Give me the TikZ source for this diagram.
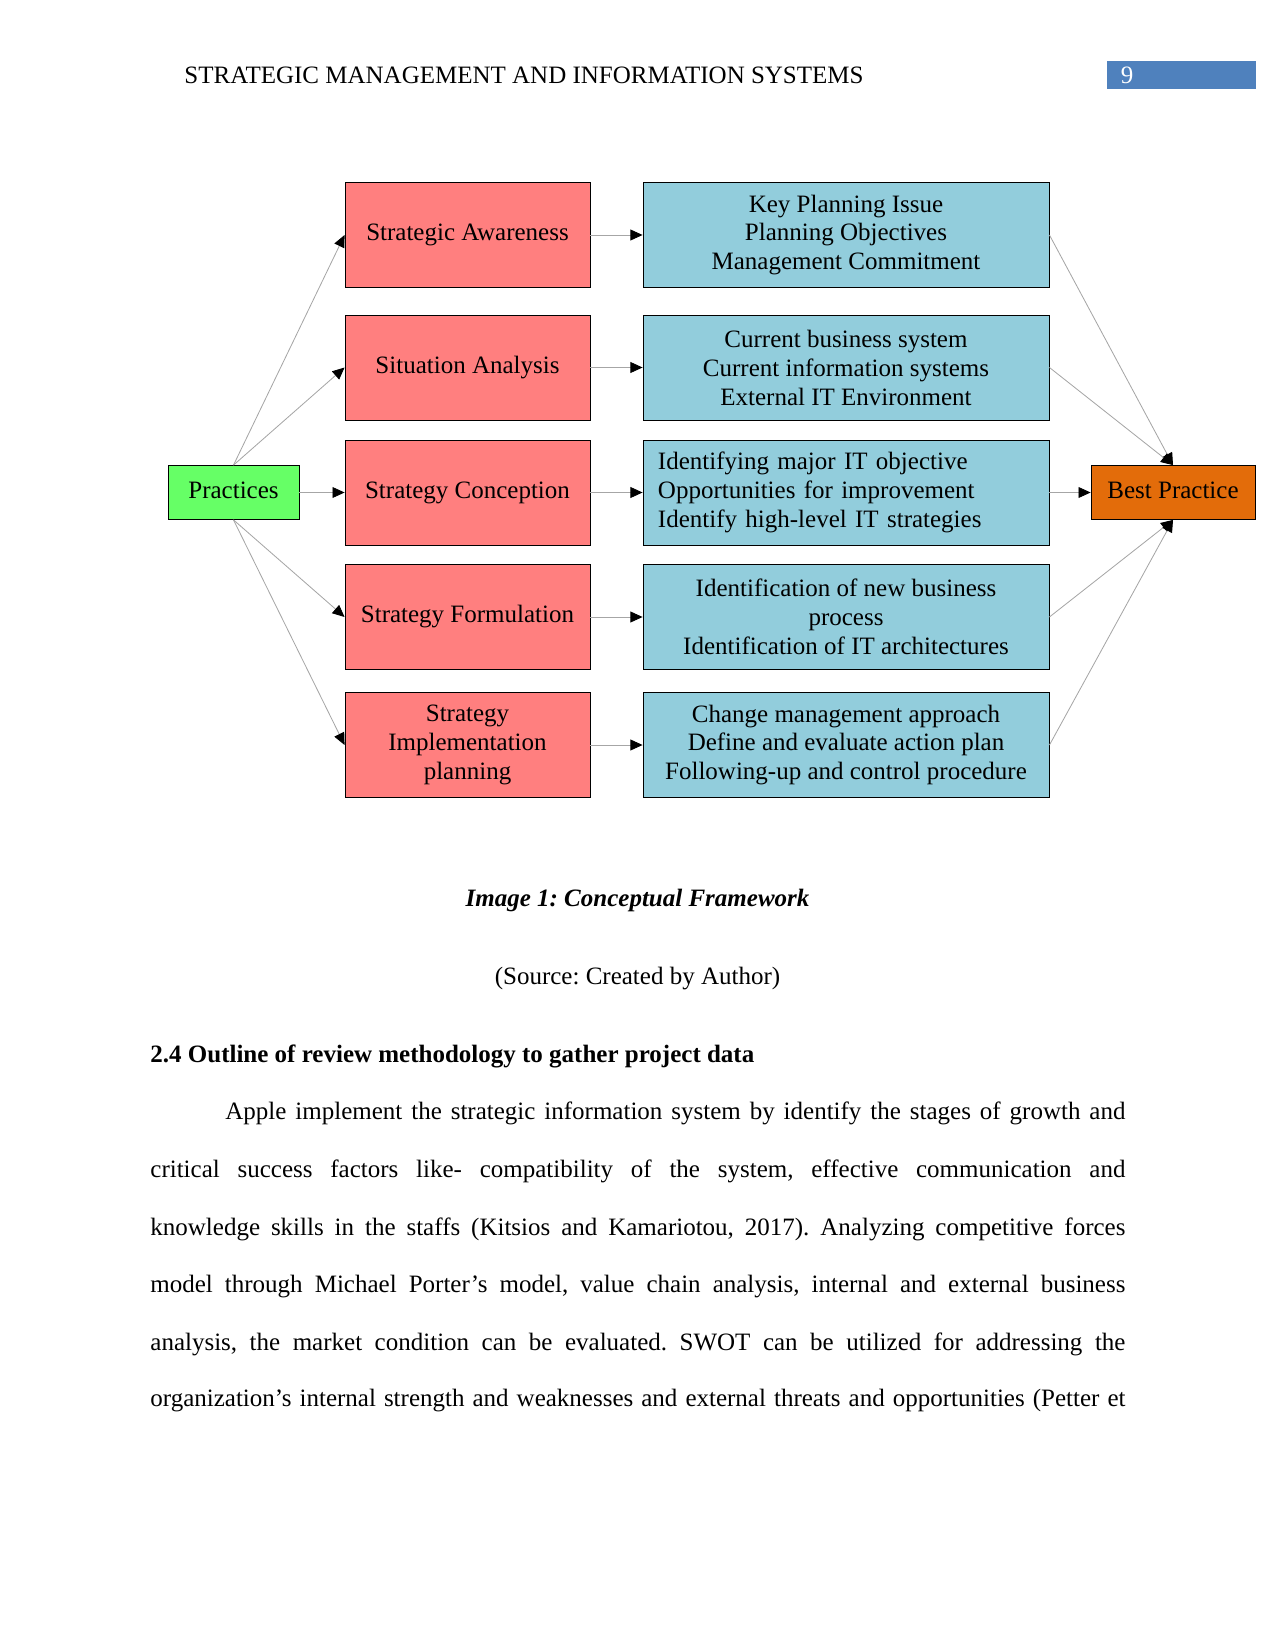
\documentclass[tikz,border=0pt]{standalone}
\usepackage{fontspec}
\setmainfont{Liberation Serif}
\frenchspacing
\usetikzlibrary{arrows.meta}
\definecolor{pinkbox}{HTML}{FF7F7F}
\definecolor{bluebox}{HTML}{92CDDC}
\definecolor{greenbox}{HTML}{66FF66}
\definecolor{orangebox}{HTML}{E36C0A}
\definecolor{headblue}{HTML}{4F81BD}
\begin{document}
\begin{tikzpicture}[x=0.48pt,y=-0.48pt,font=\fontsize{12}{13.9}\selectfont,
  pinkstyle/.style={draw=black,fill=pinkbox,minimum width=117.6pt,minimum height=50.4pt,align=center,inner sep=2pt,line width=0.4pt},
  bluestyle/.style={draw=black,fill=bluebox,minimum width=194.9pt,minimum height=50.4pt,align=center,inner sep=2pt,line width=0.4pt},
  blueleft/.style={draw=black,fill=bluebox,text width=180.5pt,minimum height=50.4pt,align=left,inner xsep=7.2pt,inner ysep=2pt,line width=0.4pt},
  smallbox/.style={draw=black,minimum height=25.9pt,inner sep=2pt,line width=0.4pt},
  conn/.style={draw=gray!70,line width=0.4pt,-{Triangle[length=5.8pt,width=5.2pt,color=black]}},
  plain/.style={inner sep=0pt,anchor=base west}]
\useasboundingbox (0,0) rectangle (1275,1650);
% header
\node[plain] (head) at (184,84) {STRATEGIC MANAGEMENT AND INFORMATION SYSTEMS};
\node[fill=headblue,minimum width=71.5pt,minimum height=13pt,inner sep=0pt] (pgbox) at (1181,75) {};
\node[plain,text=white,anchor=base] (pgnum) at (1127,84) {9};
% left boxes
\node[smallbox,fill=greenbox,minimum width=62.9pt] (prac) at (233.5,492.5) {\raisebox{2pt}{Practices}};
\node[pinkstyle] (sa) at (467.5,235) {Strategic Awareness};
\node[pinkstyle] (sit) at (467.5,367.5) {Situation Analysis};
\node[pinkstyle] (sc) at (467.5,492.5) {Strategy Conception};
\node[pinkstyle] (sf) at (467.5,617) {Strategy Formulation};
\node[pinkstyle] (si) at (467.5,745) {Strategy\\Implementation\\planning};
% right boxes
\node[bluestyle] (b1) at (846,235) {Key Planning Issue\\Planning Objectives\\Management Commitment};
\node[bluestyle] (b2) at (846,367.5) {Current business system\\Current information systems\\External IT Environment};
\node[blueleft] (b3) at (846,492.5) {Identifying major IT objective\\Opportunities for improvement\\Identify high-level IT strategies};
\node[bluestyle] (b4) at (846,617) {Identification of new business\\process\\Identification of IT architectures};
\node[bluestyle] (b5) at (846,745) {Change management approach\\Define and evaluate action plan\\Following-up and control procedure};
\node[smallbox,fill=orangebox,minimum width=78.7pt] (best) at (1173,492.5) {\raisebox{2pt}{Best Practice}};
% connectors
\draw[conn] (prac.north) -- (sa.west);
\draw[conn] (prac.north) -- (sit.west);
\draw[conn] (prac.east) -- (sc.west);
\draw[conn] (prac.south) -- (sf.west);
\draw[conn] (prac.south) -- (si.west);
\draw[conn] (sa) -- (b1);
\draw[conn] (sit) -- (b2);
\draw[conn] (sc) -- (b3);
\draw[conn] (sf) -- (b4);
\draw[conn] (si) -- (b5);
\draw[conn] (b1.east) -- (best.north);
\draw[conn] (b2.east) -- (best.north);
\draw[conn] (b3.east) -- (best.west);
\draw[conn] (b4.east) -- (best.south);
\draw[conn] (b5.east) -- (best.south);
% caption
\node[plain,anchor=base,font=\fontsize{12}{13.9}\selectfont\bfseries\itshape] (cap) at (637.5,906) {Image 1: Conceptual Framework};
\node[plain,anchor=base] (src) at (637.5,984) {(Source: Created by Author)};
\node[plain,font=\fontsize{12}{13.9}\selectfont\bfseries] (sec) at (150,1062) {2.4 Outline of review methodology to gather project data};
% paragraph
\node[plain] (l1) at (225,1119) {\makebox[432pt][s]{Apple implement the strategic information system by identify the stages of growth and}};
\node[plain] (l2) at (150,1177) {\makebox[468pt][s]{critical success factors like- compatibility of the system, effective communication and}};
\node[plain] (l3) at (150,1235) {\makebox[468pt][s]{knowledge skills in the staffs (Kitsios and Kamariotou, 2017). Analyzing competitive forces}};
\node[plain] (l4) at (150,1292) {\makebox[468pt][s]{model through Michael Porter’s model, value chain analysis, internal and external business}};
\node[plain] (l5) at (150,1350) {\makebox[468pt][s]{analysis, the market condition can be evaluated. SWOT can be utilized for addressing the}};
\node[plain] (l6) at (150,1406) {\makebox[468pt][s]{organization’s internal strength and weaknesses and external threats and opportunities (Petter et}};
\end{tikzpicture}
\end{document}
